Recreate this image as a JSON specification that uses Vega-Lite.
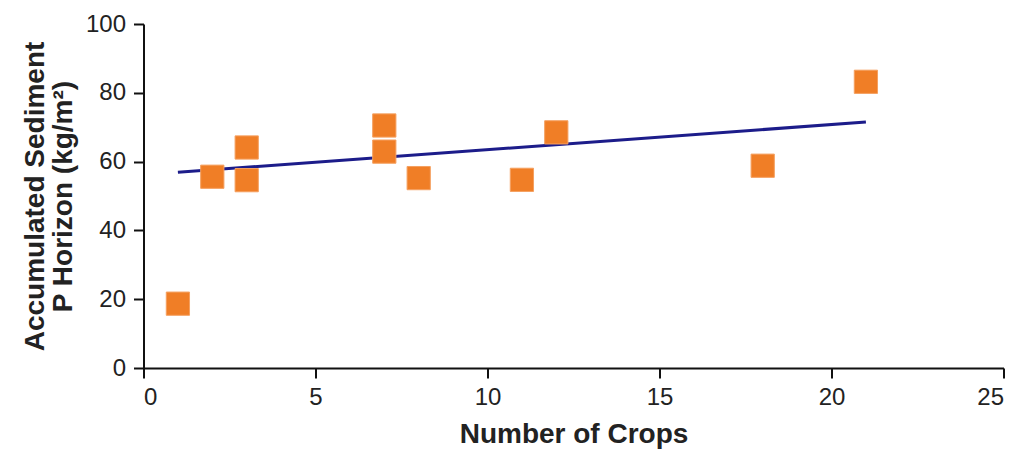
{
  "$schema": "https://vega.github.io/schema/vega-lite/v6.json",
  "width": 860,
  "height": 344,
  "autosize": {"type": "none"},
  "padding": {"left": 143.5, "top": 24, "right": 26.5, "bottom": 89},
  "background": "white",
  "config": {
    "view": {"stroke": null},
    "axis": {
      "grid": false,
      "domainColor": "#111",
      "domainWidth": 2,
      "tickColor": "#111",
      "tickWidth": 2,
      "tickSize": 10,
      "labelFont": "Liberation Sans",
      "labelFontSize": 24,
      "labelColor": "#222",
      "titleFont": "Liberation Sans",
      "titleFontSize": 28,
      "titleFontWeight": "bold",
      "titleColor": "#222"
    }
  },
  "datasets": {
    "points": [
      {"crops": 1, "sediment": 18.7},
      {"crops": 2, "sediment": 55.6},
      {"crops": 3, "sediment": 64.1},
      {"crops": 3, "sediment": 54.6},
      {"crops": 7, "sediment": 70.5},
      {"crops": 7, "sediment": 62.9},
      {"crops": 8, "sediment": 55.2},
      {"crops": 11, "sediment": 54.7},
      {"crops": 12, "sediment": 68.5},
      {"crops": 18, "sediment": 58.8},
      {"crops": 21, "sediment": 83.2}
    ],
    "trend": [
      {"crops": 1, "sediment": 56.9},
      {"crops": 21, "sediment": 71.5}
    ]
  },
  "layer": [
    {
      "data": {"name": "trend"},
      "mark": {"type": "line", "color": "#1c1c8a", "strokeWidth": 3},
      "encoding": {
        "x": {
          "field": "crops", "type": "quantitative",
          "scale": {"domain": [0, 25], "nice": false},
          "axis": {"values": [0, 5, 10, 15, 20, 25], "title": "Number of Crops", "titlePadding": 11, "labelPadding": 7}
        },
        "y": {
          "field": "sediment", "type": "quantitative",
          "scale": {"domain": [0, 100], "nice": false},
          "axis": {"values": [0, 20, 40, 60, 80, 100], "title": ["Accumulated Sediment", "P Horizon (kg/m²)"], "titlePadding": 8, "labelPadding": 8, "titleLineHeight": 28}
        }
      }
    },
    {
      "data": {"name": "points"},
      "mark": {"type": "point", "shape": "square", "filled": true, "size": 540, "color": "#F07E26", "opacity": 1, "stroke": "#F5A060", "strokeWidth": 1},
      "encoding": {
        "x": {"field": "crops", "type": "quantitative"},
        "y": {"field": "sediment", "type": "quantitative"}
      }
    }
  ]
}
